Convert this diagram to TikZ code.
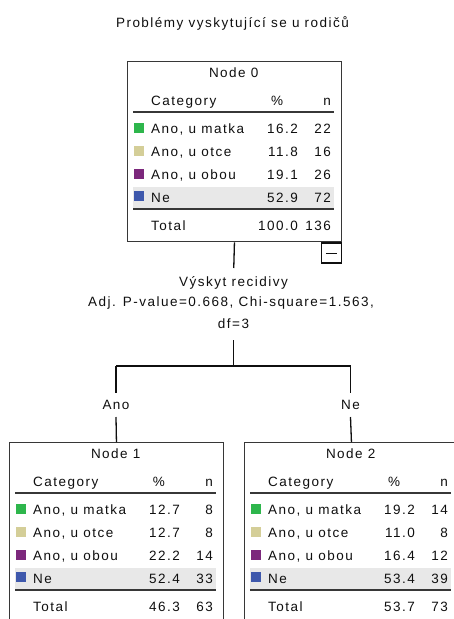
\documentclass[tikz,border=0pt]{standalone}
\usepackage{fontspec}
\setmainfont{Liberation Sans}[LetterSpace=11]
\definecolor{cat1}{RGB}{46,182,76}
\definecolor{cat2}{RGB}{212,206,152}
\definecolor{cat3}{RGB}{124,40,124}
\definecolor{cat4}{RGB}{62,88,172}
\definecolor{bandgray}{RGB}{232,232,232}
\definecolor{edge}{RGB}{55,55,55}
\definecolor{ink}{RGB}{15,15,15}
\newcommand\catlabel[1]{\ifcase#1\or Ano, u matka\or Ano, u otce\or Ano, u obou\or Ne\fi}
\tikzset{
  txt/.style={inner sep=0pt, text height=9.6pt, text depth=0pt, text=ink, font=\fontsize{13.5}{15}\selectfont},
  box/.style={draw=edge, line width=1.4pt, fill=white, inner sep=0pt, minimum width=213.5pt, anchor=north west},
  rule/.style={draw=edge, line width=1.3pt},
  band/.style={fill=bandgray},
  conn/.style={draw=ink, line width=1.3pt},
}
\newcommand\nodetable[4]{%
\begin{scope}[shift={(#1.north west)}]
  \node[txt] (#1-title) at (106.75,12) {#2};
  \node[txt, anchor=west] (#1-cat) at (24,40) {Category};
  \node[txt] (#1-pct) at (150,40) {\%};
  \node[txt, anchor=east] (#1-n) at (204,40) {n};
  \draw[rule] (6,51) -- (207,51);
  \fill[band] (6,125.5) rectangle (207,147);
  \draw[rule] (6,148) -- (207,148);
  \foreach \p/\m [count=\i] in {#3} {
    \pgfmathsetmacro\yy{68+22.8*(\i-1)}
    \fill[cat\i] (6.5,\yy-6) rectangle (16.5,\yy+4);
    \node[txt, anchor=west] (#1-l\i) at (24,\yy) {\catlabel{\i}};
    \node[txt, anchor=east] (#1-p\i) at (171,\yy) {\p};
    \node[txt, anchor=east] (#1-m\i) at (204,\yy) {\m};
  }
  \foreach \p/\m in {#4} {
    \node[txt, anchor=west] (#1-tl) at (24,164.5) {Total};
    \node[txt, anchor=east] (#1-tp) at (171,164.5) {\p};
    \node[txt, anchor=east] (#1-tm) at (204,164.5) {\m};
  }
\end{scope}}
\begin{document}
\begin{tikzpicture}[x=1pt, y=-1pt]
\useasboundingbox (0,0) rectangle (454,619);
\fill[white] (0,0) rectangle (454,619);
\clip (0,0) rectangle (454,619);

\node[txt] (title) at (232.5,23) {Problémy vyskytující se u rodičů};

% root node
\node[box, minimum height=180pt] (n0) at (127,61) {};
\nodetable{n0}{Node 0}{16.2/22, 11.8/16, 19.1/26, 52.9/72}{100.0/136}
\node[draw=ink, line width=1.3pt, fill=white, minimum width=20pt, minimum height=20pt, inner sep=0pt, anchor=north east] (toggle) at (n0.south east) {};
\draw[draw=ink, line width=0.9pt] ([xshift=-5.5pt]toggle.center) -- ([xshift=5.5pt]toggle.center);

% split description
\node[txt] (split1) at (233.5,282) {Výskyt recidivy};
\node[txt] (split2) at (231,302) {Adj. P-value=0.668, Chi-square=1.563,};
\node[txt] (split3) at (233.5,324) {df=3};

\coordinate (s1) at (233.75,268);
\coordinate (s2) at (233.75,340);
\coordinate (jm) at (233.75,366);
\coordinate (jl) at (116,366);
\coordinate (jr) at (350.5,366);

% children
\node[box, minimum height=220pt] (n1) at (9,442) {};
\nodetable{n1}{Node 1}{12.7/8, 12.7/8, 22.2/14, 52.4/33}{46.3/63}
\node[box, minimum height=220pt] (n2) at (244,442) {};
\nodetable{n2}{Node 2}{19.2/14, 11.0/8, 16.4/12, 53.4/39}{53.7/73}

\node[txt, inner ysep=7pt] (ano) at (116,405) {Ano};
\node[txt, inner ysep=7pt] (ne) at (350.5,405) {Ne};

\draw[conn] (n0.south) -- (s1);
\draw[conn] (s2) -- (jm);
\draw[conn] (jl) -- (jr);
\draw[conn] (jl) -- (ano.north);
\draw[conn] (ano.south) -- (n1.north);
\draw[conn] (jr) -- (ne.north);
\draw[conn] (ne.south) -- (n2.north);
\end{tikzpicture}
\end{document}
